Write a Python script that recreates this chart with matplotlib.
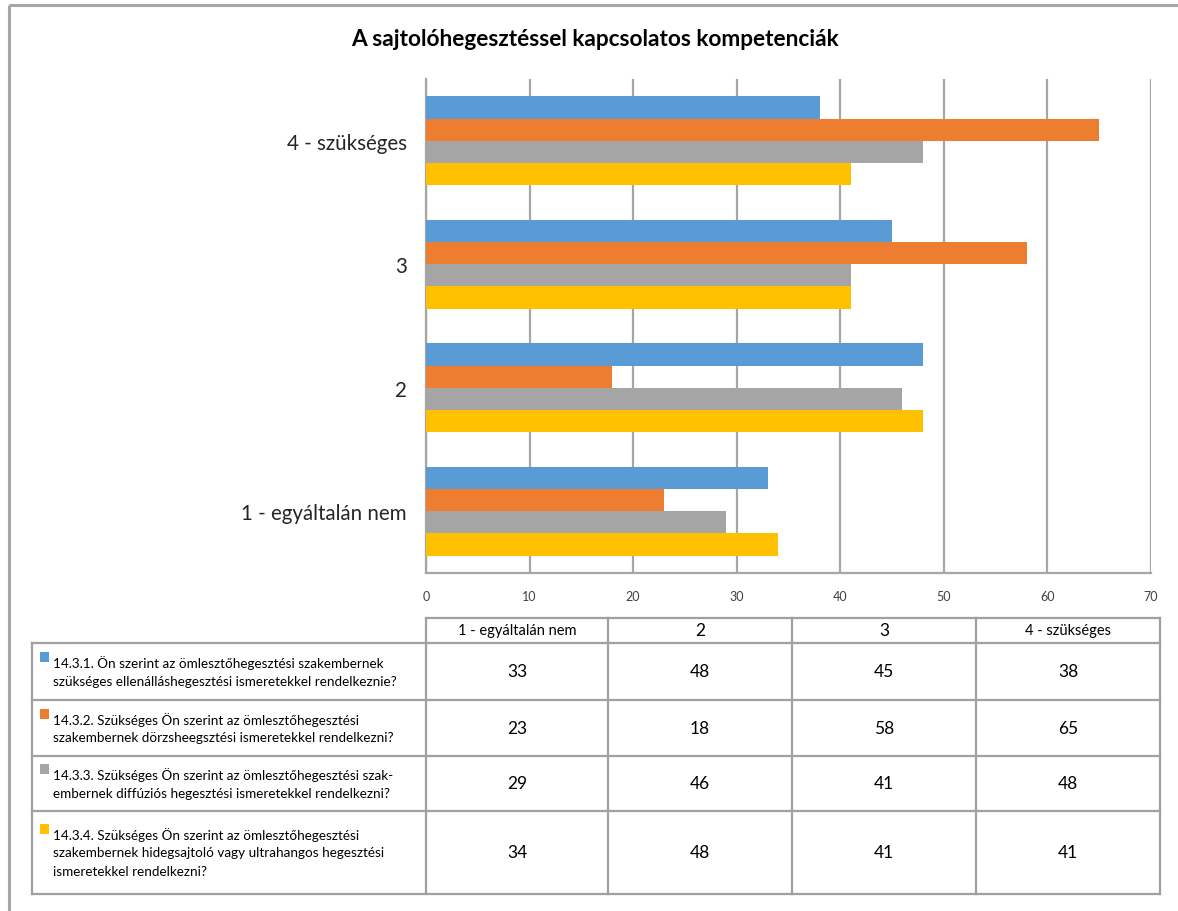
import matplotlib
matplotlib.use("Agg")
import matplotlib.pyplot as plt
from matplotlib.patches import Rectangle

plt.rcParams['font.family'] = ['Lato', 'DejaVu Sans']

# ---- data -------------------------------------------------------------
categories = ["1 - egyáltalán nem", "2", "3", "4 - szükséges"]
series_labels = [
    "14.3.1. Ön szerint az ömlesztőhegesztési szakembernek\nszükséges ellenálláshegesztési ismeretekkel rendelkeznie?",
    "14.3.2. Szükséges Ön szerint az ömlesztőhegesztési\nszakembernek dörzsheegsztési ismeretekkel rendelkezni?",
    "14.3.3. Szükséges Ön szerint az ömlesztőhegesztési szak-\nembernek diffúziós hegesztési ismeretekkel rendelkezni?",
    "14.3.4. Szükséges Ön szerint az ömlesztőhegesztési\nszakembernek hidegsajtoló vagy ultrahangos hegesztési\nismeretekkel rendelkezni?",
]
s1 = [33, 48, 45, 38]
s2 = [23, 18, 58, 65]
s3 = [29, 46, 41, 48]
s4 = [34, 48, 41, 41]
series_values = [s1, s2, s3, s4]
colors = ["#5B9BD5", "#ED7D31", "#A5A5A5", "#FFC000"]
x_ticks = [0, 10, 20, 30, 40, 50, 60, 70]
title = "A sajtolóhegesztéssel kapcsolatos kompetenciák"

W, H = 1178, 912
fig = plt.figure(figsize=(W / 100, H / 100), dpi=100)
grid_col = "#A6A6A6"
text_col = "#262626"

# ---- bar chart --------------------------------------------------------
ax = fig.add_axes([426 / W, 1 - 574 / H, 725 / W, 494 / H])
bar_h = 0.18
n = len(series_values)
for i, (vals, col) in enumerate(zip(series_values, colors)):
    offset = (n - 1) / 2 - i
    ypos = [c + offset * bar_h for c in range(len(categories))]
    ax.barh(ypos, vals, height=bar_h, color=col, zorder=3, linewidth=0)

ax.set_xlim(x_ticks[0], x_ticks[-1])
ax.set_ylim(-0.5, len(categories) - 0.5)
ax.set_xticks(x_ticks)
ax.set_xticklabels([str(t) for t in x_ticks], fontsize=9, color="#404040")
ax.set_yticks(range(len(categories)))
ax.set_yticklabels(categories, fontsize=14.8, color=text_col)
ax.tick_params(axis="x", length=0, pad=12)
ax.tick_params(axis="y", length=0, pad=14)
ax.grid(axis="x", color=grid_col, linewidth=1.6, zorder=0)
for side in ("top", "right"):
    ax.spines[side].set_visible(False)
for side in ("left", "bottom"):
    ax.spines[side].set_color(grid_col)
    ax.spines[side].set_linewidth(1.6)

# ---- overlay in pixel units for title, frame and data table -----------
ov = fig.add_axes([0, 0, 1, 1], zorder=-1)
ov.set_xlim(0, W)
ov.set_ylim(H, 0)
ov.axis("off")

ov.text(595, 40, title, ha="center", va="center", fontsize=16.3,
        fontweight="bold", color="#000000")

# outer frame
ov.plot([9, W], [6, 6], color=grid_col, lw=2.2, solid_capstyle="butt")
ov.plot([9, 9], [6, H], color=grid_col, lw=2.2, solid_capstyle="butt")

# table geometry
col_edges = [426, 608, 792, 976, 1160]
row_edges = [644, 701, 757, 812, 895]
head_top = 619
left_edge = 32
tcol = "#A0A0A0"
tlw = 1.6

ov.plot([col_edges[0], col_edges[-1]], [head_top, head_top], color=tcol, lw=tlw)
for x in col_edges:
    ov.plot([x, x], [head_top, row_edges[-1]], color=tcol, lw=tlw)
ov.plot([left_edge, left_edge], [row_edges[0], row_edges[-1]], color=tcol, lw=tlw)
for y in row_edges:
    ov.plot([left_edge, col_edges[-1]], [y, y], color=tcol, lw=tlw)

head_sizes = [10.5, 12.5, 12.5, 10.5]
for j, cat in enumerate(categories):
    cx = (col_edges[j] + col_edges[j + 1]) / 2
    ov.text(cx, (head_top + row_edges[0]) / 2, cat, ha="center", va="center",
            fontsize=head_sizes[j], color="#000000")

line_gap = 18.5
for i, (lab, vals, col) in enumerate(zip(series_labels, series_values, colors)):
    y0, y1 = row_edges[i], row_edges[i + 1]
    cy = (y0 + y1) / 2
    lines = lab.split("\n")
    first = cy - (len(lines) - 1) / 2 * line_gap
    for k, ln in enumerate(lines):
        ov.text(53, first + k * line_gap, ln, ha="left", va="center",
                fontsize=9.7, color="#000000")
    ov.add_patch(Rectangle((40, first - 10), 9, 10, color=col, lw=0))
    for j, v in enumerate(vals):
        cx = (col_edges[j] + col_edges[j + 1]) / 2
        ov.text(cx, cy, str(v), ha="center", va="center", fontsize=12.5,
                color="#000000")

fig.savefig("out.png", dpi=100)
